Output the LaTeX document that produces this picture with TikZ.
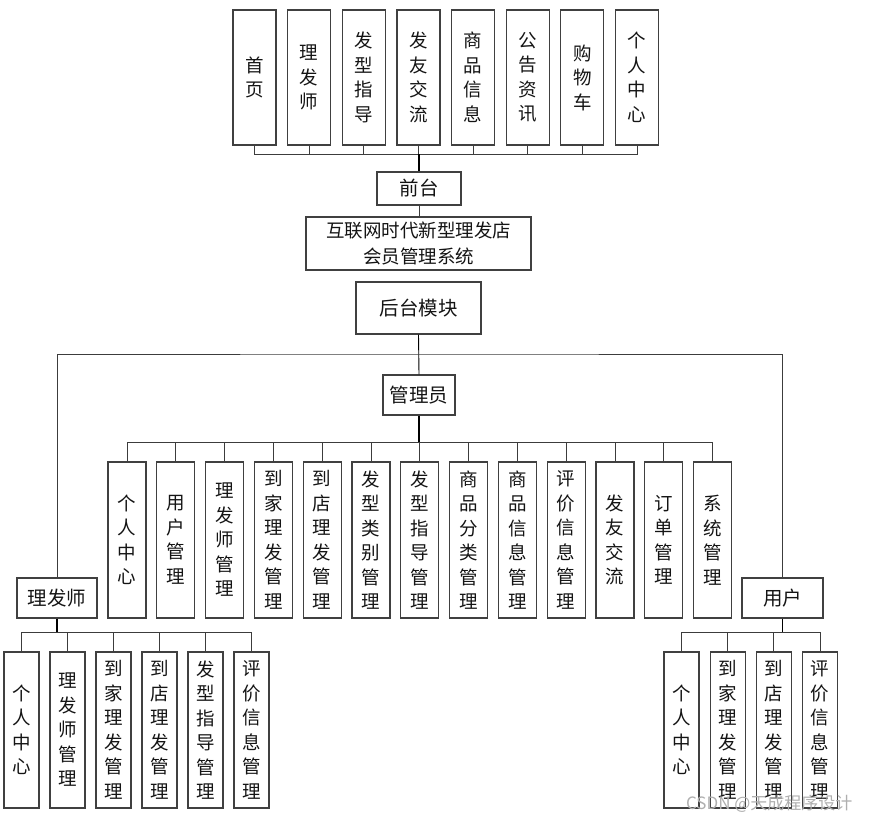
\documentclass[tikz,border=0pt]{standalone}
\usepackage{fontspec}
\setmainfont{Noto Sans CJK SC}
\usetikzlibrary{calc}
\definecolor{cBox}  {RGB}{64,64,64}
\definecolor{cLine} {RGB}{60,60,60}
\definecolor{cText} {RGB}{20,20,20}
\definecolor{cMark} {RGB}{175,175,175}
\tikzset{
  box/.style={draw=cBox,line width=1.1pt,fill=white,inner sep=0pt,align=center,
    text=cText,font=\fontsize{18.5pt}{24.5pt}\selectfont},
  topbox/.style={box,minimum width=43pt,minimum height=135pt},
  admbox/.style={box,minimum width=38pt,minimum height=156pt},
  subbox/.style={box,minimum width=35pt,minimum height=156pt},
  headbox/.style={box,font=\fontsize{19.5pt}{26pt}\selectfont},
  link/.style={draw=cLine,line width=0.9pt},
  trunk/.style={draw=black,line width=1.6pt}
}

\begin{document}
\begin{tikzpicture}[x=1pt,y=-1pt]

% fundo
\fill[white] (0,0) rectangle (870,823);
\useasboundingbox (0,0) rectangle (870,823);

% =================== FRONT ===================
\foreach \i/\txt in {1/首\\页,2/理\\发\\师,3/发\\型\\指\\导,4/发\\友\\交\\流,
                     5/商\\品\\信\\息,6/公\\告\\资\\讯,7/购\\物\\车,8/个\\人\\中\\心}
  \node[topbox] (top\i) at ({254.5+54.65*(\i-1)},77.5) {\txt};

\node[headbox,minimum width=84pt,minimum height=33pt] (front) at (419,188.5) {前台};
\coordinate (busTop) at (419,154);
\foreach \i in {1,...,8}
  \draw[link] (top\i.south) |- (busTop);
\draw[trunk] (busTop) -- (front.north);

% =================== SYSTEM ===================
\node[headbox,minimum width=225pt,minimum height=53pt,
  font=\fontsize{18.5pt}{26pt}\selectfont] (sys) at (418.5,243.5)
  {互联网时代新型理发店\\会员管理系统};
\node[headbox,minimum width=125pt,minimum height=52pt] (back) at (418.5,308) {后台模块};
\draw[link] (front.south) -- (front.south|-sys.north);
\draw[link] (sys.south) -- (sys.south-|back.north);

% =================== ROLES ===================
\node[headbox,minimum width=72pt,minimum height=40pt] (admin) at (419,395) {管理员};
\node[headbox,minimum width=80pt,minimum height=40pt] (barber) at (57,598) {理发师};
\node[headbox,minimum width=81pt,minimum height=40pt] (user) at (782.5,598) {用户};
\coordinate (split) at (419,354);
\draw[link,draw=black] (back.south) -- (admin.north);
\draw[link] (barber.north) |- (split) -| (user.north);

% =================== ADMIN ===================
\foreach \i/\txt in {1/个\\人\\中\\心,2/用\\户\\管\\理,3/理\\发\\师\\管\\理,
    4/到\\家\\理\\发\\管\\理,5/到\\店\\理\\发\\管\\理,6/发\\型\\类\\别\\管\\理,
    7/发\\型\\指\\导\\管\\理,8/商\\品\\分\\类\\管\\理,9/商\\品\\信\\息\\管\\理,
    10/评\\价\\信\\息\\管\\理,11/发\\友\\交\\流,12/订\\单\\管\\理,13/系\\统\\管\\理}
  \node[admbox] (adm\i) at ({127+48.8*(\i-1)},540) {\txt};
\coordinate (busAdm) at (419,442);
\foreach \i in {1,...,13}
  \draw[link] (adm\i.north) |- (busAdm);
\draw[trunk] (admin.south) -- (busAdm);

% =================== BARBER ===================
\foreach \i/\txt in {1/个\\人\\中\\心,2/理\\发\\师\\管\\理,3/到\\家\\理\\发\\管\\理,
    4/到\\店\\理\\发\\管\\理,5/发\\型\\指\\导\\管\\理,6/评\\价\\信\\息\\管\\理}
  \node[subbox] (bar\i) at ({21.5+46*(\i-1)},730) {\txt};
\coordinate (busBar) at (57,632);
\foreach \i in {1,...,6}
  \draw[link] (bar\i.north) |- (busBar);
\draw[trunk] (barber.south) -- (busBar);

% =================== USER ===================
\foreach \i/\txt in {1/个\\人\\中\\心,2/到\\家\\理\\发\\管\\理,
    3/到\\店\\理\\发\\管\\理,4/评\\价\\信\\息\\管\\理}
  \node[subbox] (usr\i) at ({681.5+46.2*(\i-1)},730) {\txt};
\coordinate (busUsr) at (782.5,632);
\foreach \i in {1,...,4}
  \draw[link] (usr\i.north) |- (busUsr);
\draw[trunk] (user.south) -- (busUsr);

% marca d'agua
\node[text=cMark,font=\fontsize{17pt}{20pt}\selectfont,anchor=east] (mark)
  at (856,804) {CSDN @天成程序设计};

\end{tikzpicture}
\end{document}
